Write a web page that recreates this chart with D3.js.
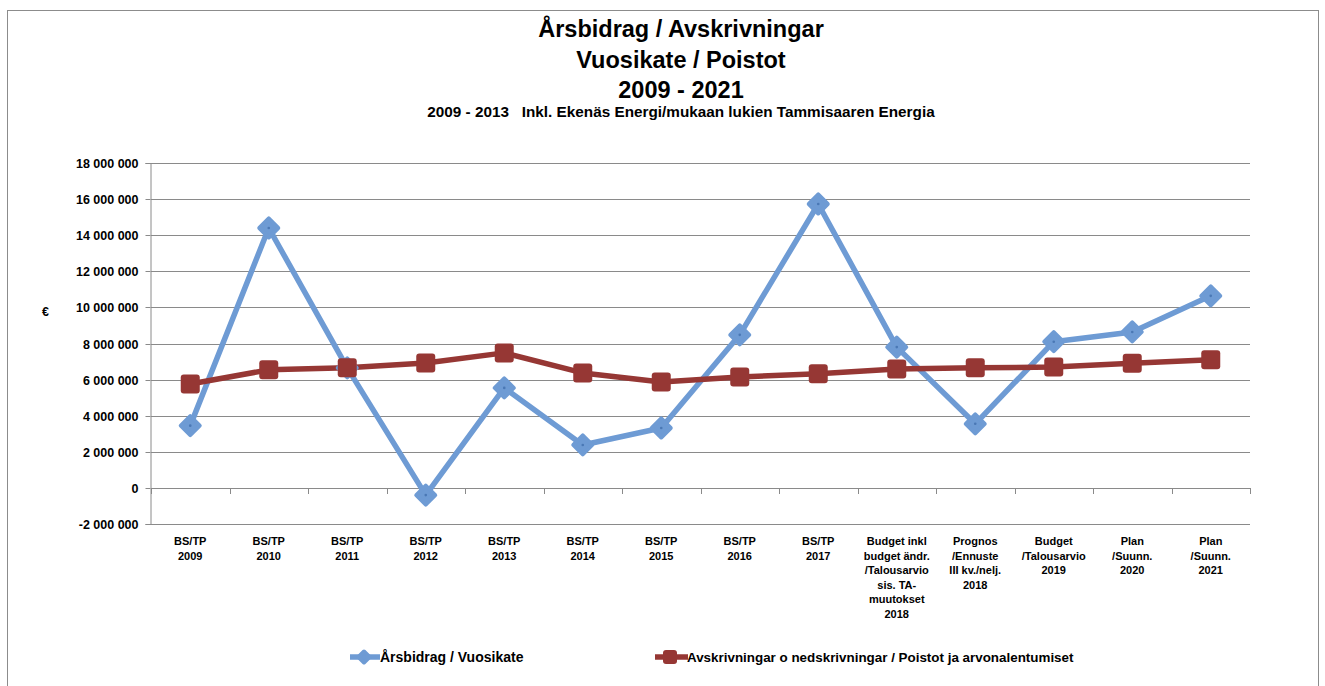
<!DOCTYPE html>
<html lang="sv">
<head>
<meta charset="UTF-8">
<title>Årsbidrag / Avskrivningar</title>
<script src="https://cdn.jsdelivr.net/npm/d3@7"></script>
<style>
  body { margin: 0; background: #fff; }
  svg text { font-family: "Liberation Sans", Arial, sans-serif; font-weight: bold; fill: #000; }
</style>
</head>
<body>
<div id="chart"></div>
<script>
// categories (multi-line labels)
const categories = [
  ["BS/TP", "2009"], ["BS/TP", "2010"], ["BS/TP", "2011"], ["BS/TP", "2012"],
  ["BS/TP", "2013"], ["BS/TP", "2014"], ["BS/TP", "2015"], ["BS/TP", "2016"],
  ["BS/TP", "2017"],
  ["Budget inkl", "budget ändr.", "/Talousarvio", "sis. TA-", "muutokset", "2018"],
  ["Prognos", "/Ennuste", "III kv./nelj.", "2018"],
  ["Budget", "/Talousarvio", "2019"],
  ["Plan", "/Suunn.", "2020"],
  ["Plan", "/Suunn.", "2021"]
];
const arsbidrag = [3450000, 14400000, 6650000, -400000, 5540000, 2380000, 3320000,
  8480000, 15730000, 7800000, 3550000, 8100000, 8640000, 10640000];
const avskrivningar = [5760000, 6540000, 6650000, 6920000, 7480000, 6370000, 5870000,
  6150000, 6320000, 6590000, 6650000, 6700000, 6900000, 7100000];
const yTicks = [-2000000, 0, 2000000, 4000000, 6000000, 8000000, 10000000,
  12000000, 14000000, 16000000, 18000000];
const titleLines = ["Årsbidrag / Avskrivningar", "Vuosikate / Poistot", "2009 - 2021"];
const subtitle = "2009 - 2013   Inkl. Ekenäs Energi/mukaan lukien Tammisaaren Energia";
const seriesNames = ["Årsbidrag / Vuosikate", "Avskrivningar o nedskrivningar / Poistot ja arvonalentumiset"];

const W = 1325, H = 686;
const blue = "#6e9bd4", red = "#963734";
const margin = { left: 151, right: 1250, top: 163, bottom: 524 };

const svg = d3.select("#chart").append("svg").attr("width", W).attr("height", H);

// outer frame
svg.append("rect").attr("x", 7.5).attr("y", 10.5).attr("width", 1311).attr("height", 690)
  .attr("fill", "none").attr("stroke", "#8c8c8c");

// titles
const t = svg.append("g").attr("text-anchor", "middle");
titleLines.forEach((s, i) => {
  t.append("text").attr("x", 681).attr("y", 37 + i * 30.5).attr("font-size", 23.5).text(s);
});
t.append("text").attr("x", 681).attr("y", 117).attr("font-size", 15.3)
  .style("white-space", "pre").text(subtitle);

const x = d3.scaleBand().domain(d3.range(categories.length))
  .range([margin.left, margin.right]);
const y = d3.scaleLinear().domain([-2000000, 18000000]).range([margin.bottom, margin.top]);
const cx = i => x(i) + x.bandwidth() / 2;

const fmt = v => d3.format(",")(v).replace(/,/g, " ").replace("\u2212", "-");

// gridlines
svg.append("g").selectAll("line").data(yTicks).join("line")
  .attr("x1", margin.left).attr("x2", margin.right)
  .attr("y1", d => Math.round(y(d)) + 0.5).attr("y2", d => Math.round(y(d)) + 0.5)
  .attr("stroke", "#8a8a8a").attr("stroke-width", 1);

// y axis
const yAxis = svg.append("g").attr("transform", `translate(${margin.left - 0.5},0)`)
  .call(d3.axisLeft(y).tickValues(yTicks).tickFormat(fmt).tickSize(5).tickPadding(7));
yAxis.select(".domain").attr("stroke", "#8a8a8a");
yAxis.selectAll(".tick line").attr("stroke", "#8a8a8a");
yAxis.selectAll(".tick text").attr("font-size", 12.5).attr("font-family", null);
yAxis.selectAll(".tick").attr("transform", d => `translate(0,${Math.round(y(d)) + 0.5})`);

svg.append("text").attr("x", 42).attr("y", 316).attr("font-size", 12.5).text("€");

// category ticks at zero line
svg.append("g").selectAll("line").data(d3.range(categories.length + 1)).join("line")
  .attr("x1", d => Math.round(margin.left + d * x.step()) + 0.5)
  .attr("x2", d => Math.round(margin.left + d * x.step()) + 0.5)
  .attr("y1", Math.round(y(0))).attr("y2", Math.round(y(0)) + 6)
  .attr("stroke", "#8a8a8a");

// category labels
const cl = svg.append("g").attr("text-anchor", "middle").attr("font-size", 11);
categories.forEach((lines, i) => {
  const tx = cl.append("text").attr("x", cx(i)).attr("y", 545);
  lines.forEach((s, j) => tx.append("tspan").attr("x", cx(i)).attr("dy", j ? 14.5 : 0).text(s));
});

// lines
const line = d3.line().x((d, i) => cx(i)).y(d => y(d));
svg.append("path").datum(arsbidrag).attr("d", line).attr("fill", "none")
  .attr("stroke", blue).attr("stroke-width", 5.5).attr("stroke-linejoin", "round");
svg.append("path").datum(avskrivningar).attr("d", line).attr("fill", "none")
  .attr("stroke", red).attr("stroke-width", 5.5).attr("stroke-linejoin", "round");

const diamond = (g, px, py, s) => g.append("path")
  .attr("d", `M${px},${py - s}L${px + s},${py}L${px},${py + s}L${px - s},${py}Z`)
  .attr("fill", blue).attr("stroke", blue).attr("stroke-width", 4).attr("stroke-linejoin", "round");
const square = (g, px, py, s) => g.append("rect")
  .attr("x", px - s).attr("y", py - s).attr("width", 2 * s).attr("height", 2 * s)
  .attr("rx", 3).attr("fill", red);

const mb = svg.append("g");
arsbidrag.forEach((v, i) => {
  diamond(mb, cx(i), y(v), 9.5);
  mb.append("circle").attr("cx", cx(i)).attr("cy", y(v)).attr("r", 1.3).attr("fill", "#4a78b5");
});
const mr = svg.append("g");
avskrivningar.forEach((v, i) => square(mr, cx(i), y(v), 9.5));

// legend
const lg = svg.append("g");
lg.append("line").attr("x1", 350).attr("x2", 380).attr("y1", 657).attr("y2", 657)
  .attr("stroke", blue).attr("stroke-width", 5.5);
diamond(lg, 364, 657, 5.5);
lg.append("text").attr("x", 380).attr("y", 662).attr("font-size", 14).text(seriesNames[0]);
lg.append("line").attr("x1", 655).attr("x2", 688).attr("y1", 657).attr("y2", 657)
  .attr("stroke", red).attr("stroke-width", 5.5);
square(lg, 670, 657, 7);
lg.append("text").attr("x", 687).attr("y", 662).attr("font-size", 13.4).text(seriesNames[1]);
</script>
</body>
</html>
